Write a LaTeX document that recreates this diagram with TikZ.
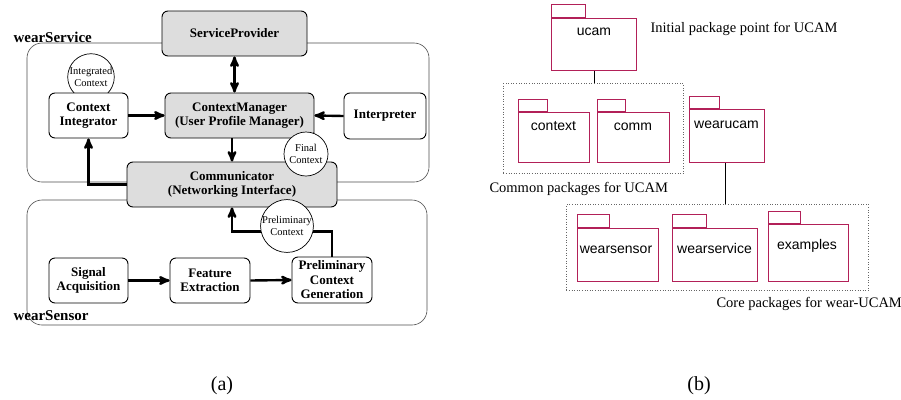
\documentclass[tikz,border=0pt]{standalone}
\usepackage{fontspec}
\setmainfont{Liberation Serif}
\setsansfont{Liberation Sans}
\usepackage{tikz}
\usetikzlibrary{
        arrows,
        positioning,
        shapes,
        shapes.geometric
    }
\definecolor{pkgred}{RGB}{178,32,88}
\definecolor{boxgray}{RGB}{221,221,221}
\tikzset{>=stealth',auto}
\tikzset{
    area/.style={draw=black!70,rounded corners=15pt,line width=.6pt},
    areaname/.style={font=\fontsize{15}{15}\selectfont\bfseries,anchor=base west},
    comp/.style={draw,rounded corners=6pt,line width=.9pt,fill=white,align=center,
        inner sep=0pt,font=\fontsize{13}{14.5}\selectfont\bfseries},
    graycomp/.style={comp,fill=boxgray},
    ctx/.style={draw,circle,fill=white,line width=.7pt,inner sep=0pt,align=center,
        font=\fontsize{10.5}{11.5}\selectfont},
    flow/.style={->,line width=2.4pt},
    pkgbody/.style={draw=pkgred,line width=1pt,inner sep=0pt,anchor=north west},
    pkgtab/.style={draw=pkgred,line width=1pt,inner sep=0pt,anchor=south west},
    pkgname/.style={font=\sffamily\fontsize{14}{14}\selectfont,anchor=base},
    group/.style={draw=black!60,dotted,line width=.6pt,inner sep=0pt},
    note/.style={font=\fontsize{14.5}{15}\selectfont,anchor=base west}
}

\begin{document}
\begin{tikzpicture}[x=1pt,y=-1pt]
        \useasboundingbox (0,0) rectangle (901,399);
        % (a) wearService / wearSensor
        \node[area,minimum width=402pt,minimum height=139pt] (service) at (228,112.5) {};
        \node[area,minimum width=400pt,minimum height=125pt] (sensor) at (227,262.5) {};
        \node[areaname] (servicename) at (10,42) {wearService};
        \node[areaname] (sensorname) at (10,320) {wearSensor};

        \node[graycomp,minimum width=145pt,minimum height=45pt] (sp) at (234.5,33.5) {ServiceProvider};
        \node[graycomp,minimum width=210pt,minimum height=45pt] (comm) at (232,184.5) {Communicator\\(Networking Interface)};
        \node[ctx,minimum size=45pt] (intctx) at (91,77) {Integrated\\Context};
        \node[comp,minimum width=79pt,minimum height=45pt] (ci) at (88.5,115.5) {Context\\Integrator};
        \node[graycomp,minimum width=149pt,minimum height=45pt] (cm) at (239.5,115.5) {ContextManager\\(User Profile Manager)};
        \node[comp,minimum width=82pt,minimum height=46pt] (int) at (385,116) {Interpreter};
        \node[ctx,minimum size=44pt] (finalctx) at (306,154) {Final\\Context};

        \node[comp,minimum width=79pt,minimum height=45pt] (sa) at (88.5,280.5) {Signal\\Acquisition};
        \node[comp,minimum width=80pt,minimum height=45pt] (fe) at (210,280.5) {Feature\\Extraction};
        \node[comp,minimum width=80pt,minimum height=46pt] (pcg) at (332,280) {Preliminary\\Context\\Generation};

        \draw[flow,<->] (sp.south) -- (sp.south |- cm.north);
        \draw[flow] (ci.east) -- (cm.west);
        \draw[flow] (int.west) -- (cm.east);
        \draw[flow] (comm.north |- cm.south) -- (comm.north);
        \draw[flow] (comm.west) -| (ci.south);
        \draw[flow] (sa.east) -- (fe.west);
        \draw[flow] (fe.east) -- (pcg.west);
        \draw[flow] (pcg.north) -- ++(0,-25) -| (comm.south);
        \node[ctx,minimum size=46pt] (prelctx) at (287,226) {Preliminary\\Context};

        \node (capa) at (222,390) [anchor=base,font=\fontsize{20}{20}\selectfont] {(a)};

        % (b) package structure
        \node[group,minimum width=180pt,minimum height=90pt,anchor=north west] (common) at (503,83) {};
        \node[group,minimum width=302pt,minimum height=86pt,anchor=north west] (core) at (566,204) {};

        \node[pkgbody,minimum width=85pt,minimum height=52pt] (ucam) at (551,18) {};
        \node[pkgtab,minimum width=34pt,minimum height=13pt] (ucamtab) at (ucam.north west) {};
        \node[pkgname] (ucamname) at (594,35) {ucam};

        \node[pkgbody,minimum width=71pt,minimum height=50pt] (context) at (518,112) {};
        \node[pkgtab,minimum width=29pt,minimum height=12pt] (contexttab) at (context.north west) {};
        \node[pkgname] (contextname) at (553.5,130) {context};

        \node[pkgbody,minimum width=72pt,minimum height=50pt] (commpkg) at (597,112) {};
        \node[pkgtab,minimum width=28pt,minimum height=12pt] (commtab) at (commpkg.north west) {};
        \node[pkgname] (commname) at (633,130) {comm};

        \node[pkgbody,minimum width=75pt,minimum height=53pt] (wearucam) at (689,109) {};
        \node[pkgtab,minimum width=30pt,minimum height=12pt] (wearucamtab) at (wearucam.north west) {};
        \node[pkgname] (wearucamname) at (726.5,128) {wearucam};

        \node[pkgbody,minimum width=81pt,minimum height=53pt] (wearsensor) at (577,228) {};
        \node[pkgtab,minimum width=32pt,minimum height=13pt] (wearsensortab) at (wearsensor.north west) {};
        \node[pkgname] (wearsensorname) at (616,253) {wearsensor};

        \node[pkgbody,minimum width=85pt,minimum height=53pt] (wearservice) at (672,228) {};
        \node[pkgtab,minimum width=34pt,minimum height=13pt] (wearservicetab) at (wearservice.north west) {};
        \node[pkgname] (wearservicename) at (714.5,253) {wearservice};

        \node[pkgbody,minimum width=80pt,minimum height=57pt] (examples) at (768,224) {};
        \node[pkgtab,minimum width=32pt,minimum height=12pt] (examplestab) at (examples.north west) {};
        \node[pkgname] (examplesname) at (807,249) {examples};

        \draw[line width=.7pt] (ucam.south) -- (ucam.south |- common.north);
        \draw[line width=.7pt] ([xshift=-2pt]wearucam.south) -- ([xshift=-2pt]wearucam.south |- core.north);

        \node[note] (initnote) at (647,32) {Initial package point for UCAM};
        \node[note] (commonnote) at (486,192) {Common packages for UCAM};
        \node[note] (corenote) at (713,307) {Core packages for wear-UCAM};

        \node (capb) at (699,390) [anchor=base,font=\fontsize{20}{20}\selectfont] {(b)};
\end{tikzpicture}
\end{document}
